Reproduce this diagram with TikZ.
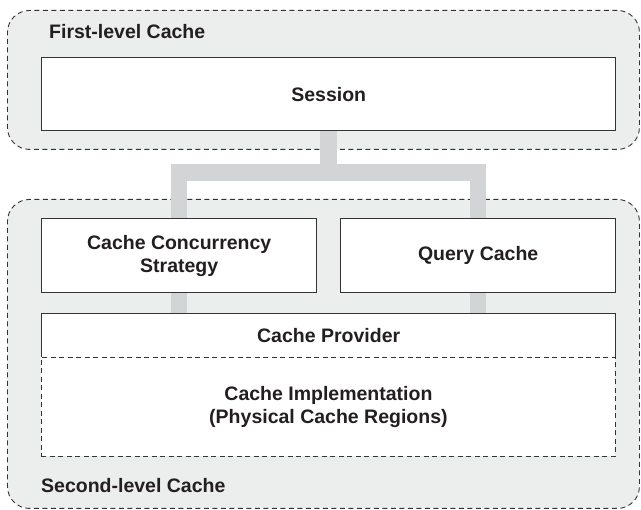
\documentclass[tikz,border=0pt]{standalone}
\usepackage{fontspec}
\setmainfont{Liberation Sans}
\usetikzlibrary{positioning}
\pgfdeclarelayer{bg}
\pgfdeclarelayer{conn}
\pgfsetlayers{bg,conn,main}
\definecolor{regionfill}{HTML}{ECEDED}
\definecolor{connfill}{HTML}{D3D4D5}
\definecolor{boxline}{HTML}{333333}
\definecolor{txt}{HTML}{231F20}
\tikzset{
  region/.style={draw=boxline, dashed, dash pattern=on 5pt off 3.5pt, line width=0.9pt, fill=regionfill, rounded corners=22pt, anchor=north west, inner sep=0pt},
  box/.style={draw=boxline, line width=1.4pt, fill=white, anchor=north west, inner sep=0pt, text=txt, font=\bfseries\fontsize{19.5}{23}\selectfont, align=center},
  dbox/.style={draw=boxline, dashed, dash pattern=on 5pt off 3.5pt, line width=0.9pt, fill=white, anchor=north west, inner sep=0pt, text=txt, font=\bfseries\fontsize{19.5}{23}\selectfont, align=center},
  lbl/.style={anchor=base west, inner sep=0pt, text=txt, font=\bfseries\fontsize{19.5}{23}\selectfont},
  conn/.style={draw=connfill, line width=16.5pt, line join=miter, line cap=butt}
}
\begin{document}
\begin{tikzpicture}[x=1pt,y=-1pt]
\useasboundingbox (0,0) rectangle (641,510);
\begin{pgfonlayer}{bg}
\node[region, minimum width=632pt, minimum height=139pt] (l1) at (7,10) {};
\node[region, minimum width=632pt, minimum height=309pt] (l2) at (7,199) {};
\end{pgfonlayer}
\node[lbl] (l1t) at (49,39) {First-level Cache};
\node[lbl] (l2t) at (41,493) {Second-level Cache};
\node[box, minimum width=574pt, minimum height=73pt] (session) at (41,57) {Session};
\node[box, minimum width=275pt, minimum height=74pt] (ccs) at (41,218) {Cache Concurrency\\Strategy};
\node[box, minimum width=275pt, minimum height=74pt] (query) at (340,218) {Query Cache};
\node[box, minimum width=574pt, minimum height=44pt] (provider) at (41,313) {Cache Provider};
\node[dbox, minimum width=574pt, minimum height=99pt] (impl) at (41,357) {Cache Implementation\\(Physical Cache Regions)};
\begin{pgfonlayer}{conn}
\coordinate (j) at ([yshift=-41pt]session.south);
\draw[conn] (session.south) -- (j);
\draw[conn] (ccs.center |- provider.north) |- (j) -| (query.center |- provider.north);
\end{pgfonlayer}
\end{tikzpicture}
\end{document}
